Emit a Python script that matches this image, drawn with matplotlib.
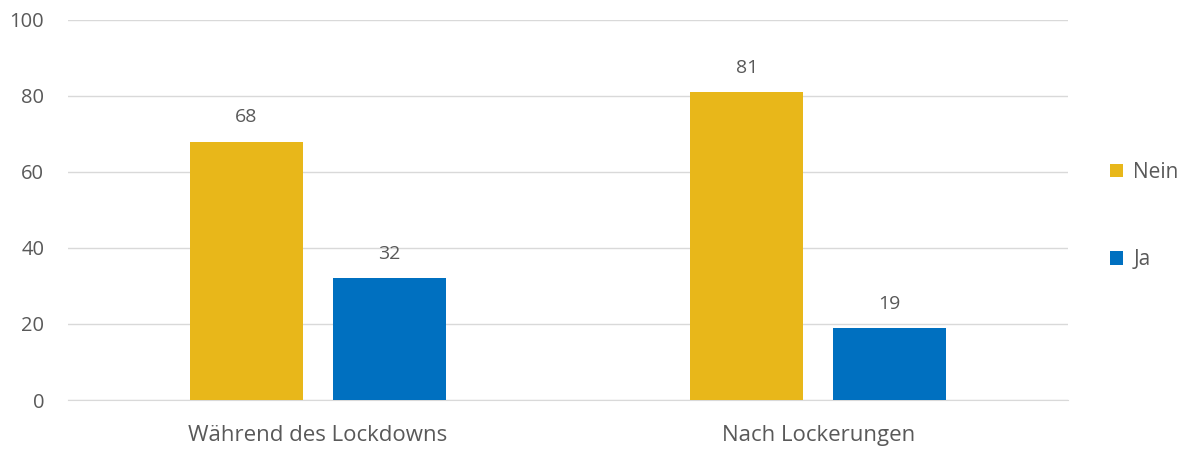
import matplotlib.pyplot as plt
import numpy as np

categories = ["Während des Lockdowns", "Nach Lockerungen"]
nein = [68, 81]
ja = [32, 19]
series_names = ["Nein", "Ja"]
colors = ["#E8B71A", "#0070C0"]
text_color = "#595959"

plt.rcParams["font.family"] = ["Open Sans", "DejaVu Sans"]

fig = plt.figure(figsize=(11.91, 4.51), dpi=100)
ax = fig.add_axes([0.057, 0.113, 0.84, 0.843])

x = np.arange(len(categories))
width = 0.226
offset = 0.143

for vals, off, col, name in [(nein, -offset, colors[0], series_names[0]),
                             (ja, offset, colors[1], series_names[1])]:
    bars = ax.bar(x + off, vals, width, color=col, label=name, zorder=3)
    for b, v in zip(bars, vals):
        ax.text(b.get_x() + b.get_width() / 2, v + 4, str(v), ha="center", va="bottom",
                fontsize=14, color=text_color)

ax.set_xlim(-0.5, 1.5)
ax.set_ylim(0, 100)
ax.set_yticks([0, 20, 40, 60, 80, 100])
ax.set_xticks(x)
ax.set_xticklabels(categories, fontsize=16)
ax.tick_params(axis="both", length=0, colors=text_color)
ax.tick_params(axis="y", pad=17, labelsize=14.5)
ax.tick_params(axis="x", pad=18)
ax.grid(axis="y", color="#D9D9D9", linewidth=1, zorder=0)
for s in ["top", "right", "left"]:
    ax.spines[s].set_visible(False)
ax.spines["bottom"].set_color("#D9D9D9")

ax.legend(loc="center left", bbox_to_anchor=(1.042, 0.484), frameon=False, fontsize=15,
          labelcolor=text_color, handlelength=0.6, handleheight=0.6, handletextpad=0.5,
          labelspacing=3.2, borderpad=0, borderaxespad=0)

fig.savefig("out.png", dpi=100)
